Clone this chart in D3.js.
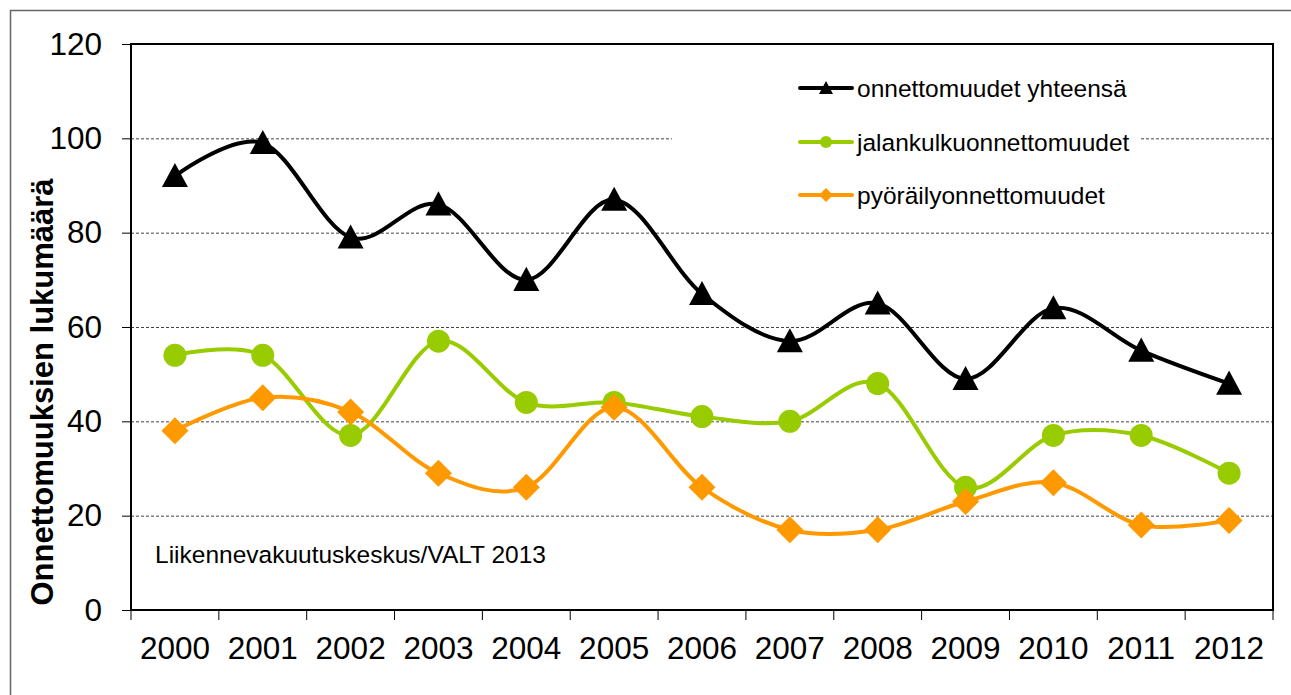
<!DOCTYPE html>
<html>
<head>
<meta charset="utf-8">
<script src="https://cdn.jsdelivr.net/npm/d3@7"></script>
<style>
  body { margin: 0; background: #fff; }
  svg text { font-family: "Liberation Sans", Arial, sans-serif; fill: #000; }
</style>
</head>
<body>
<div id="viz"></div>
<script>
var years = ["2000","2001","2002","2003","2004","2005","2006","2007","2008","2009","2010","2011","2012"];
var total = [92, 99, 79, 86, 70, 87, 67, 57, 65, 49, 64, 55, 48];
var pedestrian = [54, 54, 37, 57, 44, 44, 41, 40, 48, 26, 37, 37, 29];
var cyclist = [38, 45, 42, 29, 26, 43, 26, 17, 17, 23, 27, 18, 19];
var seriesNames = ["onnettomuudet yhteensä", "jalankulkuonnettomuudet", "pyöräilyonnettomuudet"];
var yTicks = [0, 20, 40, 60, 80, 100, 120];

var W = 1291, H = 695;
var plot = { left: 131, right: 1273, top: 44, bottom: 610 };

var series = [
  { name: seriesNames[0], values: total, color: "#000000", marker: "triangle" },
  { name: seriesNames[1], values: pedestrian, color: "#99cc00", marker: "circle" },
  { name: seriesNames[2], values: cyclist, color: "#ff9900", marker: "diamond" }
];

var svg = d3.select("#viz").append("svg")
    .attr("width", W)
    .attr("height", H);

// outer frame (runs off the right/bottom edge like the original)
svg.append("rect")
    .attr("x", 10.5).attr("y", 10.5)
    .attr("width", W).attr("height", H)
    .attr("fill", "none")
    .attr("stroke", "#666")
    .attr("stroke-width", 1.5);

var x = d3.scaleBand().domain(years).range([plot.left, plot.right]).padding(0);
var y = d3.scaleLinear().domain([0, 120]).range([plot.bottom, plot.top]);

function cx(i) { return x(years[i]) + x.bandwidth() / 2; }

// gridlines
svg.append("g").selectAll("line")
  .data(yTicks.filter(function(d) { return d > 0 && d < 120; }))
  .enter().append("line")
    .attr("x1", plot.left).attr("x2", plot.right)
    .attr("y1", function(d) { return y(d) + 0.5; })
    .attr("y2", function(d) { return y(d) + 0.5; })
    .attr("stroke", "#444")
    .attr("stroke-width", 1)
    .style("stroke-dasharray", "3, 2");

// legend background covers the gridline
var legend = svg.append("g");
legend.append("rect")
    .attr("x", 672).attr("y", 60)
    .attr("width", 468).attr("height", 155)
    .attr("fill", "#fff");

// y axis ticks + labels
var yAxis = d3.axisLeft(y).tickValues(yTicks).tickSize(9).tickPadding(20);
var gy = svg.append("g")
    .attr("transform", "translate(" + plot.left + ",0)")
    .call(yAxis);
gy.select(".domain").remove();
gy.selectAll("line").attr("stroke", "#000").attr("stroke-width", 1);
gy.selectAll("text").style("font-size", "31.5px").attr("fill", "#000");

// x axis: labels centred in band, ticks on band edges
var gx = svg.append("g")
    .attr("transform", "translate(0," + plot.bottom + ")")
    .call(d3.axisBottom(x).tickSize(0).tickPadding(27));
gx.select(".domain").remove();
gx.selectAll("text").style("font-size", "31.5px").attr("fill", "#000");

var edges = years.map(function(d) { return x(d); }).concat([plot.right]);
svg.append("g").selectAll("line")
  .data(edges)
  .enter().append("line")
    .attr("x1", function(d) { return d; }).attr("x2", function(d) { return d; })
    .attr("y1", plot.bottom).attr("y2", plot.bottom + 10)
    .attr("stroke", "#000").attr("stroke-width", 1);

// plot border
svg.append("rect")
    .attr("x", plot.left).attr("y", plot.top)
    .attr("width", plot.right - plot.left)
    .attr("height", plot.bottom - plot.top)
    .attr("fill", "none")
    .attr("stroke", "#000")
    .attr("stroke-width", 2);

// markers
function markerPath(type, s) {
  if (type === "triangle") {
    return "M0," + (-s) + "L" + s + "," + (s * 0.85) + "L" + (-s) + "," + (s * 0.85) + "Z";
  }
  if (type === "diamond") {
    return "M0," + (-s) + "L" + s + ",0L0," + s + "L" + (-s) + ",0Z";
  }
  return d3.symbol(d3.symbolCircle, Math.PI * s * s)();
}
var markerSize = { triangle: 13, circle: 11.5, diamond: 13.5 };

var line = d3.line()
    .x(function(d, i) { return cx(i); })
    .y(function(d) { return y(d); })
    .curve(d3.curveCardinal.tension(0));

series.forEach(function(s) {
  svg.append("path")
      .datum(s.values)
      .attr("d", line)
      .attr("fill", "none")
      .attr("stroke", s.color)
      .attr("stroke-width", 4);
  svg.append("g").selectAll("path")
    .data(s.values)
    .enter().append("path")
      .attr("transform", function(d, i) { return "translate(" + cx(i) + "," + y(d) + ")"; })
      .attr("d", markerPath(s.marker, markerSize[s.marker]))
      .attr("fill", s.color);
});

// legend entries
var legendY = [88, 142, 195];
series.forEach(function(s, i) {
  var g = legend.append("g").attr("transform", "translate(800," + legendY[i] + ")");
  g.append("line")
      .attr("x1", 0).attr("x2", 52)
      .attr("stroke", s.color).attr("stroke-width", 4)
      .attr("stroke-linecap", "round");
  g.append("path")
      .attr("transform", "translate(26,0)")
      .attr("d", markerPath(s.marker, s.marker === "circle" ? 6 : 7))
      .attr("fill", s.color);
  g.append("text")
      .attr("x", 57).attr("y", 0)
      .attr("dy", "0.35em")
      .style("font-size", "24.5px")
      .text(s.name);
});

// source note
svg.append("text")
    .attr("x", 155).attr("y", 563)
    .style("font-size", "24.5px")
    .text("Liikennevakuutuskeskus/VALT 2013");

// y axis title
svg.append("text")
    .attr("transform", "translate(53,392) rotate(-90)")
    .attr("text-anchor", "middle")
    .style("font-size", "31px")
    .style("font-weight", "bold")
    .text("Onnettomuuksien lukumäärä");
</script>
</body>
</html>
